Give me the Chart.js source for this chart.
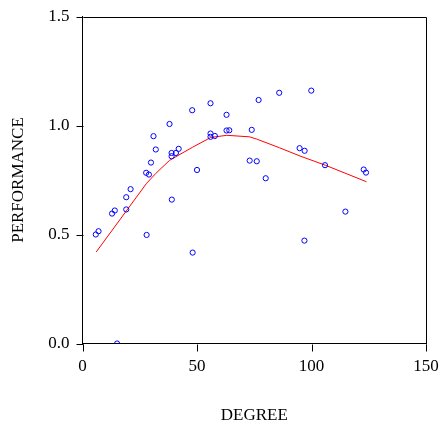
<!DOCTYPE html>
<html>
<head>
<meta charset="utf-8">
<script src="https://cdn.jsdelivr.net/npm/chart.js@4/dist/chart.umd.min.js"></script>
<style>
  html, body { margin: 0; padding: 0; background: #fff; }
  #wrap { width: 439px; height: 424px; position: relative; }
</style>
</head>
<body>
<div id="wrap"><canvas id="chart"></canvas></div>
<script>
// observed points (degree, performance)
const degree = [5.8, 7.0, 12.9, 14.1, 15.1, 19.1, 19.1, 21.0, 27.8, 28.0, 29.0, 29.9, 31.0, 32.0,
  38.0, 39.0, 38.9, 38.9, 40.8, 42.0, 47.9, 48.1, 50.0, 55.9, 55.9, 55.9, 57.8, 62.9, 62.9, 64.1,
  73.0, 73.9, 76.1, 76.9, 80.0, 85.9, 94.8, 96.9, 97.0, 99.9, 105.9, 114.8, 122.8, 123.8];
const performance = [0.50, 0.515, 0.596, 0.61, 0.0, 0.615, 0.671, 0.708, 0.783, 0.498, 0.775, 0.830, 0.951, 0.890,
  1.007, 0.66, 0.874, 0.859, 0.874, 0.893, 1.070, 0.417, 0.796, 1.102, 0.963, 0.948, 0.952, 1.049, 0.977, 0.978,
  0.839, 0.980, 0.836, 1.117, 0.758, 1.150, 0.896, 0.472, 0.884, 1.160, 0.818, 0.605, 0.798, 0.784];

// fitted curve
const fitX = [6, 28, 32, 38, 48, 56, 63, 73, 76, 86, 95, 106, 124];
const fitY = [0.42, 0.735, 0.78, 0.84, 0.90, 0.945, 0.955, 0.948, 0.938, 0.898, 0.86, 0.818, 0.742];

const xTicks = [0, 50, 100, 150];
const yTicks = [0.0, 0.5, 1.0, 1.5];

const serif = "'Liberation Serif', 'Times New Roman', serif";
const TICK = 7;

// frame (top and right sides) plus outward tick marks
const frameBox = {
    id: 'frameBox',
    afterDraw(chart) {
        const a = chart.chartArea;
        const ctx = chart.ctx;
        const px = v => Math.round(v) + 0.5;
        ctx.save();
        ctx.strokeStyle = '#000';
        ctx.lineWidth = 1;
        ctx.beginPath();
        ctx.moveTo(px(a.left), px(a.top));
        ctx.lineTo(px(a.right), px(a.top));
        ctx.lineTo(px(a.right), px(a.bottom));
        xTicks.forEach(v => {
            const x = px(chart.scales.x.getPixelForValue(v));
            ctx.moveTo(x, px(a.bottom));
            ctx.lineTo(x, px(a.bottom) + TICK);
        });
        yTicks.forEach(v => {
            const y = px(chart.scales.y.getPixelForValue(v));
            ctx.moveTo(px(a.left), y);
            ctx.lineTo(px(a.left) - TICK, y);
        });
        ctx.stroke();
        ctx.restore();
    }
};

new Chart(document.getElementById('chart'), {
    type: 'scatter',
    data: {
        datasets: [
            {
                data: fitX.map((x, i) => ({ x: x, y: fitY[i] })),
                showLine: true,
                borderColor: '#ff0000',
                borderWidth: 1,
                pointRadius: 0,
                tension: 0,
                order: 2
            },
            {
                data: degree.map((x, i) => ({ x: x, y: performance[i] })),
                pointStyle: 'circle',
                pointRadius: 2.6,
                borderWidth: 1,
                borderColor: '#0000ff',
                backgroundColor: 'rgba(0,0,0,0)',
                order: 1
            }
        ]
    },
    options: {
        responsive: true,
        maintainAspectRatio: false,
        animation: false,
        events: [],
        layout: { padding: { top: 16.5, right: 13, left: 0, bottom: 0 } },
        plugins: { legend: { display: false }, tooltip: { enabled: false } },
        scales: {
            x: {
                type: 'linear',
                min: 0,
                max: 150,
                afterBuildTicks: s => { s.ticks = xTicks.map(v => ({ value: v })); },
                afterFit: s => { s.height = 80.5; s.paddingLeft = 0; s.paddingRight = 0; },
                grid: { display: false },
                border: { display: true, color: '#000', width: 1 },
                ticks: { color: '#000', padding: 5, font: { family: serif, size: 17 }, maxRotation: 0 },
                title: { display: true, text: 'DEGREE', color: '#000', font: { family: serif, size: 17, lineHeight: 1 }, padding: { top: 4, bottom: 0 } }
            },
            y: {
                type: 'linear',
                min: 0,
                max: 1.5,
                afterBuildTicks: s => { s.ticks = yTicks.map(v => ({ value: v })); },
                afterFit: s => { s.width = 82.5; s.paddingTop = 0; s.paddingBottom = 0; },
                grid: { display: false },
                border: { display: true, color: '#000', width: 1 },
                ticks: { color: '#000', padding: 5, font: { family: serif, size: 17 }, callback: v => v.toFixed(1) },
                title: { display: true, text: 'PERFORMANCE', color: '#000', font: { family: serif, size: 17, lineHeight: 1 }, padding: { top: 10, bottom: 0 } }
            }
        }
    },
    plugins: [frameBox]
});
</script>
</body>
</html>
